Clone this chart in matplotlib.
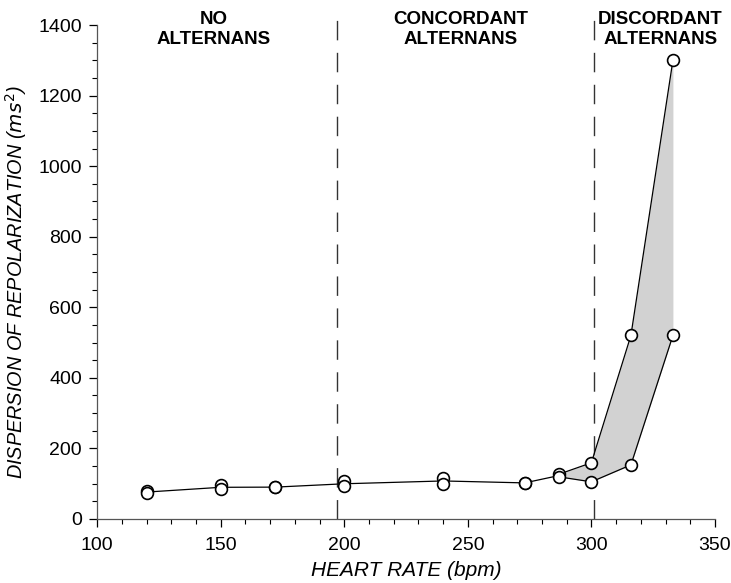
import numpy as np
import matplotlib
matplotlib.use('Agg')
from matplotlib import pyplot as plt
from matplotlib.ticker import MultipleLocator

plt.rcParams['font.family'] = ['Liberation Sans', 'DejaVu Sans']

# data
heart_rate = [120, 150, 172, 200, 240, 273, 287, 300, 316, 333]
disp_upper = [80, 95, 90, 107, 116, 102, 127, 159, 520, 1300]
disp_lower = [72, 84, 90, 92, 99, 102, 119, 105, 153, 520]
split_at = 287   # the two beats diverge from here
zone_edges = [197, 301]
zone_labels = ['NO\nALTERNANS', 'CONCORDANT\nALTERNANS', 'DISCORDANT\nALTERNANS']
zone_label_x = [147, 247, 328]

hr = np.array(heart_rate)
up = np.array(disp_upper)
lo = np.array(disp_lower)
mean = (up + lo) / 2.0
split = hr >= split_at

fig = plt.figure(figsize=(7.31, 5.83), dpi=100)
ax = fig.add_axes([0.133, 0.110, 0.845, 0.847])

# shaded band between the two beats
ax.fill_between(hr[split], lo[split], up[split], color='#d2d2d2', lw=0, zorder=1)
ax.plot(hr[~split].tolist() + [split_at], mean[~split].tolist() + [mean[split][0]],
        color='k', lw=0.9, zorder=2)
ax.plot(hr[split], up[split], color='k', lw=0.9, zorder=2)
ax.plot(hr[split], lo[split], color='k', lw=0.9, zorder=2)
# markers
ax.plot(hr, up, 'o', ms=8.5, mfc='white', mec='k', mew=1.2, zorder=3)
ax.plot(hr, lo, 'o', ms=8.5, mfc='white', mec='k', mew=1.2, zorder=3)

for xe in zone_edges:
    ax.axvline(xe, ymin=0, ymax=1.035, color='#333333', lw=1.0,
               dashes=(14, 9), clip_on=False, zorder=0)

for lab, xl in zip(zone_labels, zone_label_x):
    ax.text(xl, 1440, lab, ha='center', va='top', fontsize=13.5,
            fontweight='bold', linespacing=1.25)

ax.set_xlim(100, 350)
ax.set_ylim(0, 1400)
ax.xaxis.set_major_locator(MultipleLocator(50))
ax.xaxis.set_minor_locator(MultipleLocator(10))
ax.yaxis.set_major_locator(MultipleLocator(200))
ax.yaxis.set_minor_locator(MultipleLocator(50))
ax.tick_params(which='major', direction='out', length=6, width=0.9,
               labelsize=14, pad=5)
ax.tick_params(axis='x', which='major', pad=7)
ax.tick_params(which='minor', direction='out', length=3.5, width=0.8)
ax.spines['top'].set_visible(False)
ax.spines['right'].set_visible(False)
for s in ('left', 'bottom'):
    ax.spines[s].set_linewidth(0.9)
    ax.spines[s].set_color('#555555')

ax.set_xlabel('HEART RATE (bpm)', fontsize=15, fontstyle='italic', labelpad=5)
ax.set_ylabel('DISPERSION OF REPOLARIZATION ($ms^2$)', fontsize=14.3,
              fontstyle='italic', labelpad=7, y=0.48)

fig.savefig('out.png', dpi=100)
